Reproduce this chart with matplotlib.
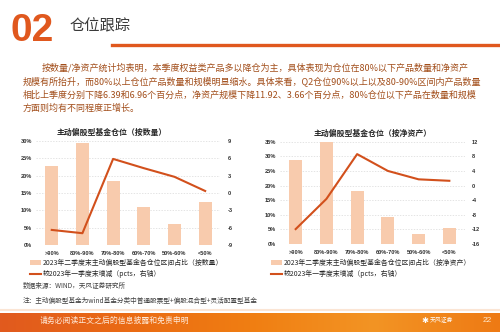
import matplotlib
matplotlib.use("Agg")
import matplotlib.pyplot as plt
import numpy as np
from matplotlib.colors import LinearSegmentedColormap
from matplotlib.lines import Line2D
from matplotlib.patches import Patch

plt.rcParams['font.family'] = ['Noto Sans CJK SC', 'DejaVu Sans']

# ---------------- data ----------------
categories = [">90%", "80%-90%", "70%-80%", "60%-70%", "50%-60%", "<50%"]
share_count = [22.9, 29.3, 18.5, 10.9, 6.2, 12.4]          # % of funds (bars, left chart)
change_count = [-6.39, -6.96, 5.9, 4.3, 2.8, 0.35]          # pcts (line, left chart)
share_nav = [28.7, 34.8, 18.1, 9.3, 3.5, 5.6]               # % of NAV (bars, right chart)
change_nav = [-11.92, -3.66, 8.6, 4.0, 1.7, 1.3]            # pcts (line, right chart)

title_left = "主动偏股型基金仓位（按数量）"
title_right = "主动偏股型基金仓位（按净资产）"
legend_bar_left = "2023年二季度末主动偏股型基金各仓位区间占比（按数量）"
legend_bar_right = "2023年二季度末主动偏股型基金各仓位区间占比（按净资产）"
legend_line = "较2023年一季度末增减（pcts，右轴）"
left_ticks_l = [0, 5, 10, 15, 20, 25, 30]
right_ticks_l = [-9, -6, -3, 0, 3, 6, 9]
left_ticks_r = [0, 5, 10, 15, 20, 25, 30, 35]
right_ticks_r = [-16, -12, -8, -4, 0, 4, 8, 12]

paragraph = [
    "按数量/净资产统计均表明，本季度权益类产品多以降仓为主，具体表现为仓位在80%以下产品数量和净资产",
    "规模有所抬升，而80%以上仓位产品数量和规模明显缩水。具体来看，Q2仓位90%以上以及80-90%区间内产品数量",
    "相比上季度分别下降6.39和6.96个百分点，净资产规模下降11.92、3.66个百分点，80%仓位以下产品在数量和规模",
    "方面则均有不同程度正增长。",
]

W, H = 500, 332
fig = plt.figure(figsize=(W / 100, H / 100), dpi=100)
fig.patch.set_facecolor('white')

def fx(x):
    return x / W

def fy(y):
    return 1 - y / H

ORANGE = '#E0581E'
BAR = '#F8CBAD'
LINE = '#D2501C'
TXT = '#A24E1B'
NUMFONT = ['Liberation Sans', 'Noto Sans CJK SC']

# ---------------- header ----------------
fig.text(fx(11), fy(31), "02", fontsize=28, fontweight='heavy', color=ORANGE,
         family=['Liberation Sans'], va='center', ha='left')
fig.text(fx(70), fy(26), "仓位跟踪", fontsize=11, color='#3a3a3a', va='center', ha='left')
fig.add_artist(Line2D([fx(112), fx(500)], [fy(45), fy(45)], color=ORANGE, lw=2.4,
                      transform=fig.transFigure))

# paragraph
ys = [67.7, 81, 95, 108.5]
for i, (line, y) in enumerate(zip(paragraph, ys)):
    x0 = 42 if i == 0 else 23
    fig.text(fx(x0), fy(y), line, fontsize=6.5, color=TXT, va='center', ha='left')

# ---------------- charts ----------------
def make_chart(rect, bars, line, lticks, rticks, title, title_xy, leg_bar, leg_xy):
    ax = fig.add_axes(rect)
    x = np.arange(len(categories))
    ax.bar(x, bars, width=0.43, color=BAR, zorder=2)
    ax.set_xlim(-0.5, len(categories) - 0.5)
    ax.set_ylim(lticks[0], lticks[-1])
    ax.set_yticks(lticks)
    ax.set_yticklabels([f"{t}%" for t in lticks])
    ax.set_xticks(x)
    ax.set_xticklabels(categories)
    for s in ax.spines.values():
        s.set_visible(False)
    ax.tick_params(length=0, pad=3)
    for lab in ax.get_yticklabels() + ax.get_xticklabels():
        lab.set_fontsize(4.1)
        lab.set_fontweight('bold')
        lab.set_family(NUMFONT)
        lab.set_color('#333333')
    ax.tick_params(axis='x', pad=4)
    for t in lticks[1:]:
        ax.axhline(t, color='#d9d9d9', lw=0.5, ls=(0, (2, 2)), zorder=1)
    ax2 = ax.twinx()
    ax2.plot(x, line, color=LINE, lw=1.5, zorder=3)
    ax2.set_ylim(rticks[0], rticks[-1])
    ax2.set_yticks(rticks)
    ax2.set_yticklabels([str(t) for t in rticks])
    for s in ax2.spines.values():
        s.set_visible(False)
    ax2.tick_params(length=0, pad=5)
    for lab in ax2.get_yticklabels():
        lab.set_fontsize(4.1)
        lab.set_fontweight('bold')
        lab.set_family(NUMFONT)
        lab.set_color('#333333')
    fig.text(fx(title_xy[0]), fy(title_xy[1]), title, fontsize=5.7, fontweight='bold',
             color='#262626', ha='center', va='center')
    handles = [Patch(facecolor=BAR, edgecolor='none'), Line2D([0], [0], color=LINE, lw=1.5)]
    ax2.legend(handles, [leg_bar, legend_line], loc='upper left',
               bbox_to_anchor=(fx(leg_xy[0]), fy(leg_xy[1])), bbox_transform=fig.transFigure,
               frameon=False, fontsize=4.95, handlelength=1.55, handleheight=0.7,
               handletextpad=0.3, borderaxespad=0, borderpad=0, labelspacing=0.45,
               labelcolor='#262626')
    return ax, ax2

make_chart([fx(36.4), fy(245), (220.5 - 36.4) / W, (245 - 141) / H],
           share_count, change_count, left_ticks_l, right_ticks_l,
           title_left, (112, 132), legend_bar_left, (30, 259))
make_chart([fx(280.3), fy(244), (464.7 - 280.3) / W, (244 - 141.7) / H],
           share_nav, change_nav, left_ticks_r, right_ticks_r,
           title_right, (373, 133), legend_bar_right, (271, 259))

# sources / notes
fig.text(fx(23), fy(286), "数据来源：WIND，天风证券研究所", fontsize=4.8, color='#404040',
         va='center', ha='left')
fig.text(fx(23), fy(301), "注：主动偏股型基金为wind基金分类中普通股票型+偏股混合型+灵活配置型基金",
         fontsize=4.8, color='#404040', va='center', ha='left')

# ---------------- footer ----------------
fig.add_artist(Line2D([0, 1], [fy(310), fy(310)], color='#FBE5D4', lw=1.5,
                      transform=fig.transFigure))
axf = fig.add_axes([0, 0, 1, 19 / H])
cmap = LinearSegmentedColormap.from_list('foot', ['#E15A1E', '#EA6A14', '#F07E12', '#F39424', '#EE7A14'])
grad = np.linspace(0, 1, 500)[None, :]
axf.imshow(grad, aspect='auto', cmap=cmap, extent=[0, 1, 0, 1])
axf.set_axis_off()
fig.text(fx(40), fy(321), "请务必阅读正文之后的信息披露和免责申明", fontsize=5.65, color='#FFE9D8',
         va='center', ha='left')
fig.text(fx(421), fy(320.5), "✱", fontsize=6, color='white', family=['DejaVu Sans'],
         va='center', ha='left')
fig.text(fx(430), fy(319.5), "天风证券", fontsize=4.2, color='white', va='center', ha='left')
fig.text(fx(483), fy(320.5), "22", fontsize=6, color='#FFE6C8', va='center', ha='left',
         family=['Liberation Sans'])

fig.savefig("out.png", dpi=100)
